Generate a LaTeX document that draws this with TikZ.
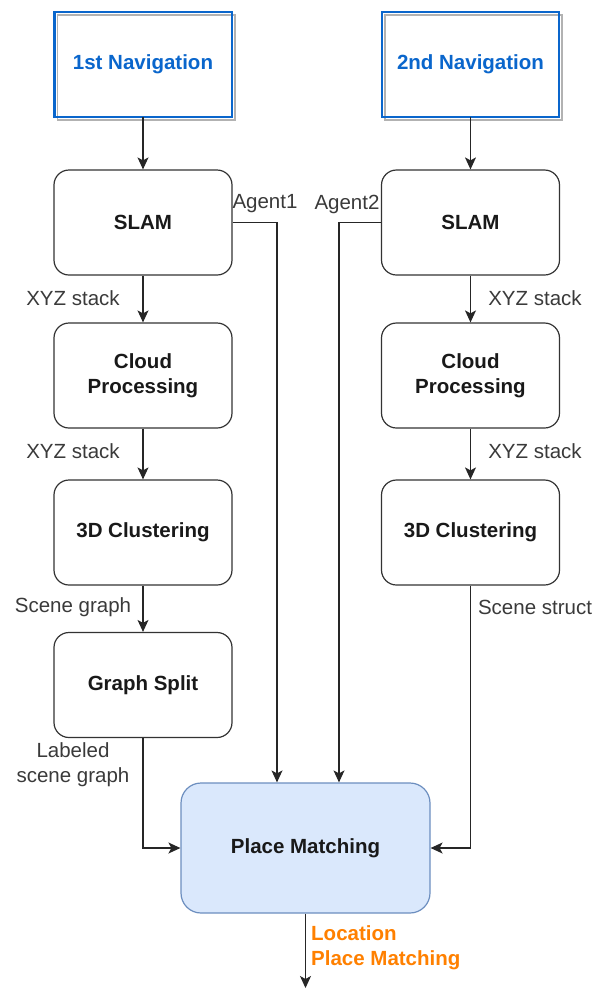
\documentclass[tikz,border=0pt]{standalone}
\usepackage{fontspec}
\setmainfont{Liberation Sans}
\usetikzlibrary{arrows.meta,calc}
\definecolor{navblue}{HTML}{0A66CC}
\definecolor{pmfill}{HTML}{DAE8FC}
\definecolor{pmdraw}{HTML}{6C8EBF}
\definecolor{edgegray}{HTML}{333333}
\definecolor{labgray}{HTML}{3A3A3A}
\definecolor{outorange}{HTML}{FF8000}
\tikzset{
  stepbox/.style={draw=edgegray, line width=1.2pt, rounded corners=15pt, fill=white,
    minimum width=178pt, minimum height=105pt, align=center,
    font=\fontsize{20.5}{25}\selectfont\bfseries, text=black!90},
  navbox/.style={fill=white,
    minimum width=177pt, minimum height=105pt, align=center,
    font=\fontsize{20.5}{25}\selectfont\bfseries, text=navblue},
  navframe/.style={draw=navblue, line width=2.4pt},
  navshadow/.style={draw=black!30, line width=1.6pt},
  pmbox/.style={draw=pmdraw, line width=1.2pt, rounded corners=20pt, fill=pmfill,
    minimum width=249pt, minimum height=130pt, align=center,
    font=\fontsize{20.5}{25}\selectfont\bfseries, text=black!90},
  arr/.style={draw=black!85, line width=1.2pt, -{Stealth[length=12pt,width=11pt,inset=3pt]}},
  lab/.style={font=\fontsize{20.5}{24}\selectfont, text=labgray, align=center, inner sep=0pt},
  outlab/.style={font=\fontsize{20.5}{25}\selectfont\bfseries, text=outorange, align=left, inner sep=0pt}
}
\begin{document}
\begin{tikzpicture}[x=1pt,y=-1pt]
\useasboundingbox (0,0) rectangle (595,989);

% navigation sources: white box, offset grey outline, blue frame on top
\node[navbox] (nav1) at (143,64.5) {1st Navigation};
\node[navbox] (nav2) at (470.5,64.5) {2nd Navigation};
\draw[navshadow] ($(nav1.north west)+(3,3)$) rectangle ($(nav1.south east)+(3,3)$);
\draw[navshadow] ($(nav2.north west)+(3,3)$) rectangle ($(nav2.south east)+(3,3)$);
\draw[navframe] (nav1.north west) rectangle (nav1.south east);
\draw[navframe] (nav2.north west) rectangle (nav2.south east);

% left pipeline
\node[stepbox] (slamL) at (143,222.5) {SLAM};
\node[stepbox] (cloudL) at (143,375.5) {Cloud\\Processing};
\node[stepbox] (clustL) at (143,532.5) {3D Clustering};
\node[stepbox] (split) at (143,685) {Graph Split};

% right pipeline
\node[stepbox] (slamR) at (470.5,222.5) {SLAM};
\node[stepbox] (cloudR) at (470.5,375.5) {Cloud\\Processing};
\node[stepbox] (clustR) at (470.5,532.5) {3D Clustering};

% matching stage
\node[pmbox] (pm) at (305.5,848) {Place Matching};

% vertical flows
\draw[arr] (nav1.south) -- (slamL);
\draw[arr] (slamL) -- (cloudL);
\draw[arr] (cloudL) -- (clustL);
\draw[arr] (clustL) -- (split);
\draw[arr] (nav2.south) -- (slamR);
\draw[arr] (slamR) -- (cloudR);
\draw[arr] (cloudR) -- (clustR);

% agent trajectories into matching
\coordinate (a1) at (277,0);
\coordinate (a2) at (339,0);
\draw[arr] (slamL.east) -| (a1 |- pm.north);
\draw[arr] (slamR.west) -| (a2 |- pm.north);

% scene graphs into matching
\draw[arr] (split.south) |- (pm.west);
\draw[arr] (clustR.south) |- (pm.east);

% output
\coordinate (out) at (305.5,988);
\draw[arr] (pm.south) -- (out);

% edge labels
\node[lab] at (265,204) {Agent1};
\node[lab] at (347,204) {Agent2};
\node[lab] at (73,298) {XYZ stack};
\node[lab] at (73,451) {XYZ stack};
\node[lab] at (535,298) {XYZ stack};
\node[lab] at (535,451) {XYZ stack};
\node[lab] at (73,607) {Scene graph};
\node[lab] at (535,607) {Scene struct};
\node[lab, text height=15pt] at (73,777) {Labeled\\[1pt]scene graph};
\node[outlab, anchor=west] at (311,933) {Location};
\node[outlab, anchor=west] at (311,960) {Place Matching};
\end{tikzpicture}
\end{document}
